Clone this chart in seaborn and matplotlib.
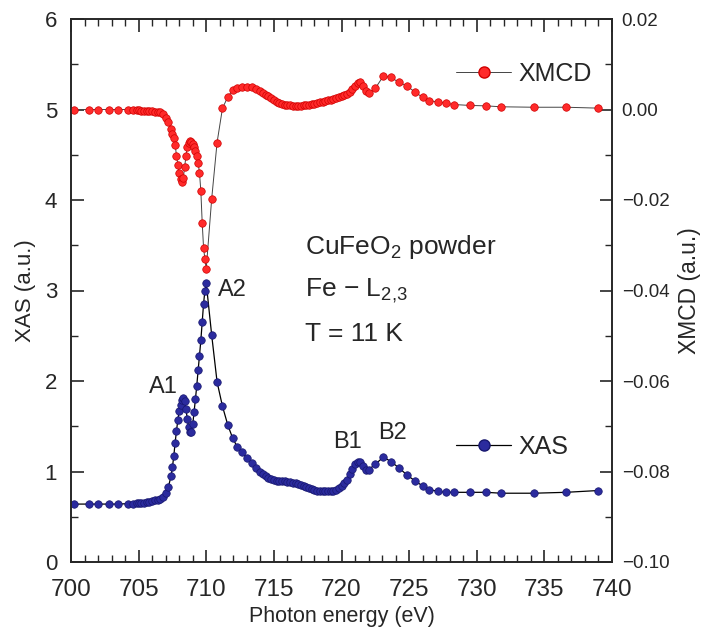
import matplotlib
matplotlib.use("Agg")
import matplotlib.pyplot as plt
from matplotlib.lines import Line2D
from matplotlib.ticker import MultipleLocator, FuncFormatter
import seaborn as sns
import pandas as pd

energy = [700.2, 701.3, 702.0, 702.8, 703.5, 704.2, 704.6, 704.9,
          705.0, 705.2, 705.4, 705.6, 705.8, 706.0, 706.2, 706.4, 706.6, 706.8,
          707.0, 707.2, 707.4,
          707.5, 707.6, 707.7, 707.8, 707.9, 708.0, 708.1, 708.2, 708.3, 708.4,
          708.5, 708.6, 708.7, 708.8, 708.9, 709.0, 709.1, 709.2, 709.3, 709.4,
          709.5, 709.6, 709.7, 709.8, 709.9, 710.0,
          710.4, 710.8, 711.2, 711.6, 711.95, 712.3, 712.65, 713.0, 713.35, 713.7,
          714.0, 714.2, 714.4, 714.6, 714.8, 715.0, 715.2, 715.4, 715.6, 715.8,
          716.0, 716.2, 716.4, 716.6, 716.8, 717.0, 717.2, 717.4, 717.6, 717.8,
          718.0, 718.2, 718.4, 718.6, 718.8, 719.0, 719.2, 719.4, 719.6, 719.8,
          720.0, 720.2, 720.4, 720.6, 720.8, 721.0, 721.2, 721.4, 721.6, 721.8,
          722.0, 722.5, 723.1, 723.65, 724.25, 724.85, 725.4, 726.0, 726.5,
          727.15, 727.7, 728.3, 729.5, 730.7, 731.8, 734.2, 736.6, 739.0]

xas = [0.64, 0.64, 0.64, 0.64, 0.64, 0.645, 0.645, 0.65,
       0.65, 0.65, 0.655, 0.66, 0.665, 0.67, 0.68, 0.69, 0.70, 0.72,
       0.76, 0.83, 0.95,
       1.05, 1.17, 1.32, 1.45, 1.57, 1.67, 1.74, 1.79, 1.81, 1.78,
       1.69, 1.58, 1.49, 1.44, 1.44, 1.52, 1.66, 1.80, 1.95, 2.12,
       2.28, 2.45, 2.65, 2.85, 3.00, 3.08,
       2.51, 1.99, 1.72, 1.51, 1.37, 1.27, 1.21, 1.15, 1.09, 1.04,
       1.00, 0.97, 0.95, 0.93, 0.92, 0.91, 0.90, 0.90, 0.89, 0.89,
       0.88, 0.88, 0.87, 0.87, 0.86, 0.85, 0.84, 0.83, 0.82, 0.81,
       0.80, 0.79, 0.785, 0.78, 0.78, 0.78, 0.785, 0.79, 0.80, 0.82,
       0.84, 0.87, 0.91, 0.97, 1.03, 1.08, 1.11, 1.10, 1.06, 1.02,
       1.02, 1.08, 1.16, 1.11, 1.04, 0.96, 0.90, 0.84, 0.80,
       0.78, 0.77, 0.77, 0.77, 0.77, 0.76, 0.76, 0.77, 0.79]

xmcd = [0.0, 0.0, 0.0, 0.0, 0.0, 0.0, 0.0, -0.0001,
        -0.0002, -0.0003, -0.0003, -0.0004, -0.0004, -0.0004, -0.0005, -0.0005, -0.0006, -0.0011,
        -0.0018, -0.0028, -0.0044,
        -0.0054, -0.0064, -0.0078, -0.0102, -0.0122, -0.0140, -0.0153, -0.0160, -0.0152, -0.0128,
        -0.0102, -0.0083, -0.0073, -0.0070, -0.0072, -0.0076, -0.0083, -0.0092, -0.0102, -0.0118,
        -0.0140, -0.0180, -0.0250, -0.0305, -0.0331, -0.0352,
        -0.0198, -0.0073, 0.0003, 0.0028, 0.0043, 0.0048, 0.0050, 0.0050, 0.0049, 0.0045,
        0.0040, 0.0036, 0.0032, 0.0029, 0.0025, 0.0021, 0.0017, 0.0015, 0.0013, 0.0011,
        0.0010, 0.0009, 0.0008, 0.0008, 0.0008, 0.0008, 0.0009, 0.0010, 0.0011, 0.0012,
        0.0013, 0.0015, 0.0016, 0.0017, 0.0018, 0.0020, 0.0021, 0.0023, 0.0025, 0.0027,
        0.0029, 0.0032, 0.0035, 0.0039, 0.0045, 0.0052, 0.0058, 0.0061, 0.0052, 0.0040,
        0.0037, 0.0047, 0.0074, 0.0071, 0.0060, 0.0052, 0.0039, 0.0027, 0.0019,
        0.0017, 0.0014, 0.0011, 0.0009, 0.0008, 0.0006, 0.0005, 0.0005, 0.0003]

peak_labels = ["A1", "A2", "B1", "B2"]
peak_pos = [(706.85, 1.93), (711.9, 3.0), (720.45, 1.33), (723.8, 1.42)]
info_lines = ["CuFeO$_2$ powder", "Fe \u2212 L$_{2{,}3}$", "T = 11 K"]

df = pd.DataFrame({"energy": energy, "XAS": xas, "XMCD": xmcd})

sns.set_style("ticks")
plt.rcParams["font.family"] = ["Liberation Sans", "DejaVu Sans"]
plt.rcParams["mathtext.fontset"] = "custom"
plt.rcParams["mathtext.rm"] = "Liberation Sans"
plt.rcParams["mathtext.it"] = "Liberation Sans"
plt.rcParams["axes.unicode_minus"] = True

fig = plt.figure(figsize=(7.06, 6.37), dpi=100)
ax = fig.add_axes([71 / 706, 1 - 562 / 637, (612 - 71) / 706, (562 - 19) / 637])
ax2 = ax.twinx()

blue_face = "#2b2b9e"
blue_edge = "#17176e"
red_face = "#ff2a2a"
red_edge = "#d00000"

sns.lineplot(data=df, x="energy", y="XAS", ax=ax, color="black", lw=0.9,
             marker="o", markersize=5.4, markerfacecolor=blue_face,
             markeredgecolor=blue_edge, markeredgewidth=0.5, sort=False)
sns.lineplot(data=df, x="energy", y="XMCD", ax=ax2, color="#444444", lw=0.7,
             marker="o", markersize=5.4, markerfacecolor=red_face,
             markeredgecolor=red_edge, markeredgewidth=0.5, sort=False)

ax.set_xlim(700, 740)
ax.set_ylim(0, 6)
ax2.set_ylim(-0.10, 0.02)


def right_fmt(v, p):
    v = round(v, 4)
    if abs(v) < 1e-9:
        v = 0.0
    return f"{v:.2f}".replace("-", "\u2212")


ax.xaxis.set_major_locator(MultipleLocator(5))
ax.xaxis.set_minor_locator(MultipleLocator(1))
ax.yaxis.set_major_locator(MultipleLocator(1))
ax.yaxis.set_minor_locator(MultipleLocator(0.5))
ax2.yaxis.set_major_locator(MultipleLocator(0.02))
ax2.yaxis.set_minor_locator(MultipleLocator(0.01))
ax2.yaxis.set_major_formatter(FuncFormatter(right_fmt))

ax.tick_params(axis="x", which="both", direction="in", top=True, labelsize=17.5, pad=12)
ax.tick_params(axis="x", which="major", length=9, width=1.2)
ax.tick_params(axis="x", which="minor", length=5, width=1.0)
ax.tick_params(axis="y", which="both", direction="in", right=False, labelsize=16, pad=10)
ax.tick_params(axis="y", which="major", length=9, width=1.2)
ax.tick_params(axis="y", which="minor", length=5, width=1.0)
ax2.tick_params(axis="y", which="both", direction="in", labelsize=13.5, pad=7)
ax2.tick_params(axis="y", which="major", length=9, width=1.2)
ax2.tick_params(axis="y", which="minor", length=5, width=1.0)

for a in (ax, ax2):
    for s in a.spines.values():
        s.set_linewidth(1.2)
        s.set_visible(True)

ax.set_xlabel("Photon energy (eV)", fontsize=15.5, labelpad=4)
ax.set_ylabel("XAS (a.u.)", fontsize=16, labelpad=6)
ax2.set_ylabel("XMCD (a.u.)", fontsize=16.5, labelpad=6)

for lab, (px, py) in zip(peak_labels, peak_pos):
    ax.text(px, py, lab, fontsize=17, ha="center", va="center")

for i, line in enumerate(info_lines):
    ax.text(717.3, 3.48 - i * 0.48, line, fontsize=19, ha="left", va="center")

h_xmcd = Line2D([], [], color="#444444", lw=0.7, marker="o", markersize=8,
                markerfacecolor=red_face, markeredgecolor=red_edge)
h_xas = Line2D([], [], color="black", lw=0.9, marker="o", markersize=8,
               markerfacecolor=blue_face, markeredgecolor=blue_edge)
leg1 = ax2.legend([h_xmcd], ["XMCD"], loc="center left", frameon=False,
                  bbox_to_anchor=(456 / 706, 1 - 74 / 637), bbox_transform=fig.transFigure,
                  fontsize=18, handlelength=2.2, handletextpad=0.3, borderpad=0, borderaxespad=0)
leg2 = ax.legend([h_xas], ["XAS"], loc="center left", frameon=False,
                 bbox_to_anchor=(456 / 706, 1 - 447 / 637), bbox_transform=fig.transFigure,
                 fontsize=18, handlelength=2.2, handletextpad=0.3, borderpad=0, borderaxespad=0)

fig.savefig("out.png", dpi=100)
